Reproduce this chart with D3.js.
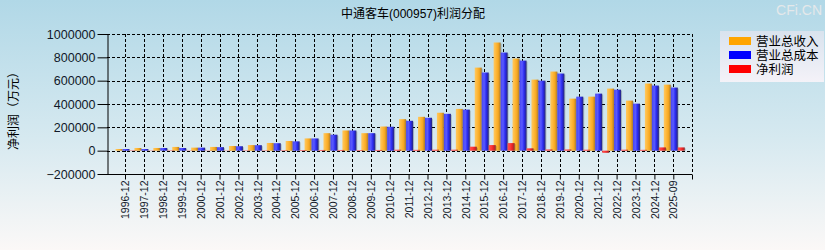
<!DOCTYPE html>
<html>
<head>
<meta charset="utf-8">
<script src="https://cdn.jsdelivr.net/npm/d3@7"></script>
<style>
  body { margin: 0; }
  svg { display: block; font-family: 'Liberation Sans', Arial, 'Noto Sans CJK SC', sans-serif; }
</style>
</head>
<body>
<div id="chart"></div>
<script>
const categories = ['1996-12', '1997-12', '1998-12', '1999-12', '2000-12', '2001-12', '2002-12', '2003-12',
  '2004-12', '2005-12', '2006-12', '2007-12', '2008-12', '2009-12', '2010-12', '2011-12', '2012-12',
  '2013-12', '2014-12', '2015-12', '2016-12', '2017-12', '2018-12', '2019-12', '2020-12', '2021-12',
  '2022-12', '2023-12', '2024-12', '2025-09']
const revenue = [14000, 23000, 23000, 32000, 26000, 32000, 40000, 48000, 66000, 83000, 105000, 150000,
  173000, 150000, 207000, 270000, 290000, 325000, 358000, 712000, 927000, 790000, 609000, 678000,
  446000, 463000, 532000, 429000, 575000, 566000]
const cost = [14000, 14000, 23000, 23000, 26000, 30000, 38000, 47000, 64000, 80000, 105000, 137000,
  173000, 150000, 205000, 256000, 282000, 316000, 352000, 670000, 841000, 772000, 600000, 661000,
  463000, 489000, 523000, 403000, 558000, 541000]
const profit = [3000, 2000, 3000, 2000, 2000, 2000, 3000, 3000, 4000, 5000, 6000, 6000, 5000, 6000,
  8000, 7000, 8000, 8000, 34000, 48000, 65000, 20000, 10000, 10000, 8000, -18000, 8000, 7000,
  28000, 28000]
const seriesNames = ['营业总收入', '营业总成本', '净利润']
const yTicks = [-200000, 0, 200000, 400000, 600000, 800000, 1000000]

const width = 825
const height = 250
const plotLeft = 107
const plotRight = 692
const plotTop = 34
const plotBottom = 174

const svg = d3.select('#chart').append('svg')
  .attr('width', width)
  .attr('height', height)

const defs = svg.append('defs')

function vGrad (id, stops) {
  const g = defs.append('linearGradient').attr('id', id)
    .attr('x1', 0).attr('y1', 0).attr('x2', 0).attr('y2', 1)
  stops.forEach(s => g.append('stop').attr('offset', s[0]).attr('stop-color', s[1]))
}
function hGrad (id, stops) {
  const g = defs.append('linearGradient').attr('id', id)
    .attr('x1', 0).attr('y1', 0).attr('x2', 1).attr('y2', 0)
  stops.forEach(s => g.append('stop').attr('offset', s[0]).attr('stop-color', s[1]))
}

vGrad('bg', [[0, '#b1d8e7'], [0.55, '#d6e9f0'], [1, '#fbf8f7']])
vGrad('legbg', [[0, '#d9e3ee'], [1, '#f4f2f8']])
hGrad('g0', [[0, '#ffc860'], [0.3, '#ffbb40'], [0.65, '#f7a820'], [1, '#a87a30']])
hGrad('g1', [[0, '#4646f0'], [0.35, '#5a5aff'], [0.65, '#2a2af0'], [1, '#26267a']])
hGrad('g2', [[0, '#ff5050'], [0.4, '#ff3838'], [0.7, '#e02424'], [1, '#8a3030']])

svg.append('rect').attr('width', width).attr('height', height).attr('fill', 'url(#bg)')

const x = d3.scalePoint().domain(categories).range([125, 673.3])
const y = d3.scaleLinear().domain([-200000, 1000000]).range([plotBottom, plotTop])
const inner = d3.scaleBand().domain([0, 1, 2]).range([-9.5, 11.5])

// grid
const grid = svg.append('g')
  .attr('stroke', '#000')
  .attr('stroke-dasharray', '3,2')
grid.selectAll('.hg').data(yTicks.slice(1)).enter().append('line')
  .attr('x1', plotLeft).attr('x2', plotRight)
  .attr('y1', d => Math.round(y(d)) + 0.5).attr('y2', d => Math.round(y(d)) + 0.5)
grid.selectAll('.vg').data(categories.concat(['end'])).enter().append('line')
  .attr('x1', d => d === 'end' ? plotRight + 0.5 : Math.round(x(d)) + 0.5)
  .attr('x2', d => d === 'end' ? plotRight + 0.5 : Math.round(x(d)) + 0.5)
  .attr('y1', plotTop).attr('y2', plotBottom)

// bars
const series = [revenue, cost, profit]
series.forEach((vals, si) => {
  const g = svg.append('g')
  g.selectAll('rect.shadow').data(vals).enter().append('rect')
    .attr('x', (d, i) => x(categories[i]) + inner(si) + 1)
    .attr('y', d => Math.min(y(d), y(0)) + 1)
    .attr('width', inner.bandwidth())
    .attr('height', d => Math.max(Math.abs(y(d) - y(0)) - 1, 0))
    .attr('fill', '#000').attr('opacity', 0.18)
  g.selectAll('rect.bar').data(vals).enter().append('rect')
    .attr('x', (d, i) => x(categories[i]) + inner(si))
    .attr('y', d => Math.min(y(d), y(0)))
    .attr('width', inner.bandwidth())
    .attr('height', d => Math.abs(y(d) - y(0)))
    .attr('fill', 'url(#g' + si + ')')
})

// y axis
const yAxis = svg.append('g')
  .attr('transform', 'translate(' + (plotLeft + 0.5) + ',0)')
  .call(d3.axisLeft(y).tickValues(yTicks).tickSize(10).tickSizeOuter(0).tickFormat(d3.format('d')))
yAxis.select('.domain').attr('stroke', '#000')
yAxis.selectAll('.tick line').attr('stroke', '#000')
yAxis.selectAll('text')
  .attr('font-size', 12.5)
  .attr('fill', '#101828')
  .attr('x', -12)
  .attr('font-family', "'Liberation Sans', Arial, sans-serif")

// x axis
const xAxis = svg.append('g')
  .attr('transform', 'translate(0,' + (plotBottom + 0.5) + ')')
  .call(d3.axisBottom(x).tickSize(5).tickSizeOuter(0))
xAxis.select('.domain').attr('d', 'M' + plotLeft + ',0H' + plotRight).attr('stroke', '#000')
xAxis.selectAll('.tick line').attr('stroke', '#000')
xAxis.selectAll('text')
  .attr('font-size', 10.5)
  .attr('fill', '#101828')
  .attr('transform', 'rotate(-90)')
  .attr('text-anchor', 'end')
  .attr('x', -6)
  .attr('y', 0)
  .attr('dy', '0.35em')
  .attr('font-family', "'Liberation Sans', Arial, sans-serif")
xAxis.append('line')
  .attr('x1', plotRight + 0.5).attr('x2', plotRight + 0.5)
  .attr('y1', 0).attr('y2', 5).attr('stroke', '#000')

// title
svg.append('text')
  .attr('x', 413).attr('y', 18)
  .attr('text-anchor', 'middle')
  .attr('font-size', 12)
  .attr('fill', '#000')
  .text('中通客车(000957)利润分配')

svg.append('text')
  .attr('x', 822).attr('y', 15)
  .attr('text-anchor', 'end')
  .attr('font-size', 14)
  .attr('fill', '#e4e8ea')
  .text('CFi.CN')

// y label
svg.append('text')
  .attr('transform', 'translate(18,108) rotate(-90)')
  .attr('text-anchor', 'middle')
  .attr('font-size', 12)
  .attr('fill', '#000')
  .text('净利润（万元）')

// legend
const legendColors = ['#ffa500', '#0000ff', '#ff0000']
const legend = svg.append('g')
legend.append('rect')
  .attr('x', 720).attr('y', 31).attr('width', 104).attr('height', 51)
  .attr('fill', 'url(#legbg)')
const items = legend.selectAll('g.item').data(seriesNames).enter().append('g')
  .attr('transform', (d, i) => 'translate(729,' + (37 + i * 14) + ')')
items.append('rect')
  .attr('width', 22).attr('height', 8)
  .attr('fill', (d, i) => legendColors[i])
items.append('text')
  .attr('x', 27).attr('y', 9)
  .attr('font-size', 12.5)
  .attr('fill', '#000')
  .text(d => d)
</script>
</body>
</html>
